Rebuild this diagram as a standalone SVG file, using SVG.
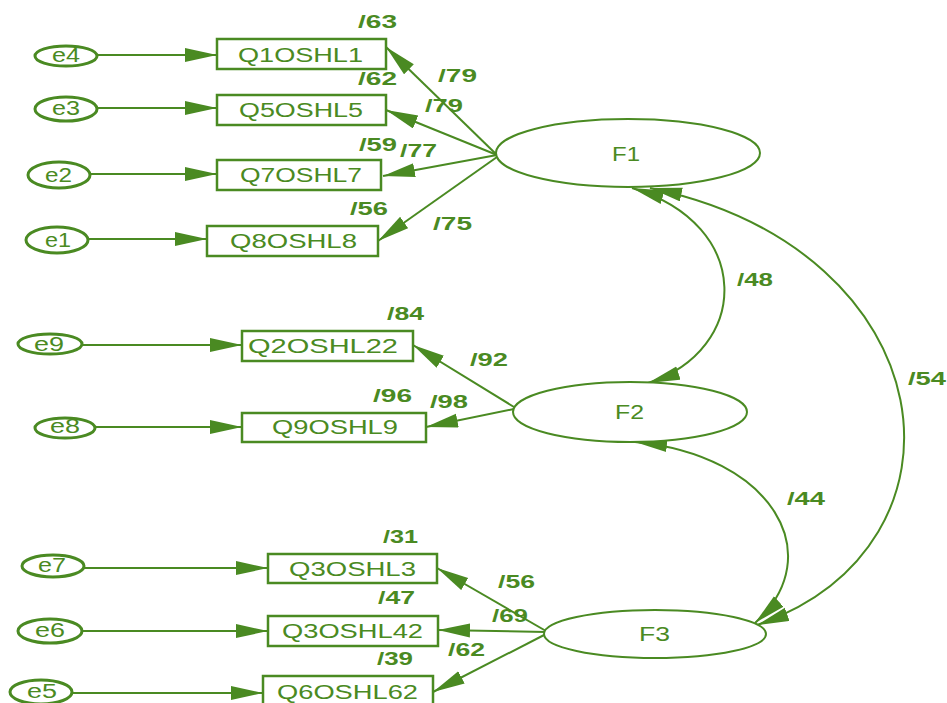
<svg xmlns="http://www.w3.org/2000/svg" width="947" height="703" viewBox="0 0 947 703">
<style>
.box{fill:#fff;stroke:#4a8a22;stroke-width:2.5}
.err{fill:#fff;stroke:#4a8a22;stroke-width:3}
.lat{fill:#fff;stroke:#4a8a22;stroke-width:2}
.t{font-family:"Liberation Sans",Arial,sans-serif;font-size:19.5px;fill:#4a8a22}
.n{font-family:"Liberation Sans",Arial,sans-serif;font-size:18px;font-weight:bold;fill:#4a8a22}
.c{fill:none;stroke:#4a8a22;stroke-width:2;marker-end:url(#ah)}
.cc{fill:none;stroke:#4a8a22;stroke-width:2;marker-start:url(#ah);marker-end:url(#ah)}
</style>
<defs>
<marker id="ah" markerUnits="userSpaceOnUse" markerWidth="34" markerHeight="16" refX="32" refY="7" orient="auto-start-reverse" viewBox="0 0 34 16">
<path d="M0,0 L32,7 L0,14 z" fill="#4a8a22"/>
</marker>
</defs>
<rect width="947" height="703" fill="#fff"/>
<g id="connectors">
<line class="c" x1="97" y1="55" x2="217" y2="55"/>
<line class="c" x1="97" y1="108" x2="217" y2="108"/>
<line class="c" x1="90" y1="174" x2="217" y2="174"/>
<line class="c" x1="88" y1="239" x2="207" y2="239"/>
<line class="c" x1="82" y1="345" x2="242" y2="345"/>
<line class="c" x1="95" y1="427" x2="242" y2="427"/>
<line class="c" x1="84" y1="568" x2="268" y2="568"/>
<line class="c" x1="82" y1="631" x2="268" y2="631"/>
<line class="c" x1="73" y1="693" x2="263" y2="693"/>
<line class="c" x1="497" y1="155" x2="386" y2="47"/>
<line class="c" x1="497" y1="155" x2="386" y2="110"/>
<line class="c" x1="497" y1="155" x2="383" y2="176"/>
<line class="c" x1="497" y1="157" x2="378" y2="241"/>
<line class="c" x1="514" y1="407" x2="413" y2="345"/>
<line class="c" x1="514" y1="409" x2="426" y2="427"/>
<line class="c" x1="546" y1="631" x2="437" y2="568"/>
<line class="c" x1="546" y1="632" x2="438" y2="630"/>
<line class="c" x1="546" y1="634" x2="433" y2="692"/>
<path class="cc" d="M632,188 C755,225 750,350 648,383"/>
<path class="cc" d="M650,188 C947,250 985,545 757,625"/>
<path class="cc" d="M635,442 C772,455 830,555 755,623"/>
</g>
<g id="e4"><ellipse class="err" cx="66" cy="56" rx="31" ry="10"/><text class="t" x="52" y="62" textLength="28" lengthAdjust="spacingAndGlyphs">e4</text></g>
<g id="e3"><ellipse class="err" cx="66" cy="109" rx="31" ry="12"/><text class="t" x="52" y="115" textLength="28" lengthAdjust="spacingAndGlyphs">e3</text></g>
<g id="e2"><ellipse class="err" cx="59" cy="175" rx="31" ry="13"/><text class="t" x="45" y="182" textLength="27" lengthAdjust="spacingAndGlyphs">e2</text></g>
<g id="e1"><ellipse class="err" cx="57" cy="240" rx="31" ry="13"/><text class="t" x="45" y="247" textLength="26" lengthAdjust="spacingAndGlyphs">e1</text></g>
<g id="e9"><ellipse class="err" cx="50" cy="344" rx="32" ry="10"/><text class="t" x="34" y="351" textLength="30" lengthAdjust="spacingAndGlyphs">e9</text></g>
<g id="e8"><ellipse class="err" cx="65" cy="428" rx="30" ry="10"/><text class="t" x="50" y="433" textLength="30" lengthAdjust="spacingAndGlyphs">e8</text></g>
<g id="e7"><ellipse class="err" cx="53" cy="566" rx="31" ry="11"/><text class="t" x="38" y="572" textLength="28" lengthAdjust="spacingAndGlyphs">e7</text></g>
<g id="e6"><ellipse class="err" cx="50" cy="631" rx="32" ry="12"/><text class="t" x="35" y="637" textLength="30" lengthAdjust="spacingAndGlyphs">e6</text></g>
<g id="e5"><ellipse class="err" cx="41" cy="692" rx="31" ry="12"/><text class="t" x="27" y="698" textLength="30" lengthAdjust="spacingAndGlyphs">e5</text></g>
<g id="Q1OSHL1"><rect class="box" x="217" y="39" width="169" height="30"/><text class="t" x="238" y="62" textLength="125" lengthAdjust="spacingAndGlyphs">Q1OSHL1</text></g>
<g id="Q5OSHL5"><rect class="box" x="217" y="95" width="169" height="30"/><text class="t" x="239" y="117" textLength="124" lengthAdjust="spacingAndGlyphs">Q5OSHL5</text></g>
<g id="Q7OSHL7"><rect class="box" x="217" y="160" width="164" height="30"/><text class="t" x="240" y="182" textLength="122" lengthAdjust="spacingAndGlyphs">Q7OSHL7</text></g>
<g id="Q8OSHL8"><rect class="box" x="207" y="226" width="171" height="30"/><text class="t" x="230" y="248" textLength="127" lengthAdjust="spacingAndGlyphs">Q8OSHL8</text></g>
<g id="Q2OSHL22"><rect class="box" x="242" y="331" width="171" height="30"/><text class="t" x="248" y="353" textLength="150" lengthAdjust="spacingAndGlyphs">Q2OSHL22</text></g>
<g id="Q9OSHL9"><rect class="box" x="242" y="413" width="184" height="29"/><text class="t" x="272" y="434" textLength="126" lengthAdjust="spacingAndGlyphs">Q9OSHL9</text></g>
<g id="Q3OSHL3"><rect class="box" x="268" y="554" width="169" height="29"/><text class="t" x="289" y="576" textLength="127" lengthAdjust="spacingAndGlyphs">Q3OSHL3</text></g>
<g id="Q3OSHL42"><rect class="box" x="268" y="616" width="170" height="30"/><text class="t" x="282" y="638" textLength="141" lengthAdjust="spacingAndGlyphs">Q3OSHL42</text></g>
<g id="Q6OSHL62"><rect class="box" x="263" y="676" width="170" height="30"/><text class="t" x="277" y="699" textLength="141" lengthAdjust="spacingAndGlyphs">Q6OSHL62</text></g>
<g id="F1"><ellipse class="lat" cx="628" cy="153" rx="132" ry="34"/><text class="t" x="612" y="161" textLength="28" lengthAdjust="spacingAndGlyphs">F1</text></g>
<g id="F2"><ellipse class="lat" cx="630" cy="412" rx="117" ry="30"/><text class="t" x="615" y="419" textLength="29" lengthAdjust="spacingAndGlyphs">F2</text></g>
<g id="F3"><ellipse class="lat" cx="655" cy="634" rx="111" ry="24"/><text class="t" x="639" y="641" textLength="31" lengthAdjust="spacingAndGlyphs">F3</text></g>
<g id="labels">
<text class="n" x="358" y="28" textLength="39" lengthAdjust="spacingAndGlyphs">/63</text>
<text class="n" x="438" y="82" textLength="39" lengthAdjust="spacingAndGlyphs">/79</text>
<text class="n" x="358" y="85" textLength="39" lengthAdjust="spacingAndGlyphs">/62</text>
<text class="n" x="425" y="112" textLength="38" lengthAdjust="spacingAndGlyphs">/79</text>
<text class="n" x="359" y="151" textLength="38" lengthAdjust="spacingAndGlyphs">/59</text>
<text class="n" x="400" y="157" textLength="37" lengthAdjust="spacingAndGlyphs">/77</text>
<text class="n" x="350" y="215" textLength="38" lengthAdjust="spacingAndGlyphs">/56</text>
<text class="n" x="433" y="230" textLength="39" lengthAdjust="spacingAndGlyphs">/75</text>
<text class="n" x="387" y="320" textLength="37" lengthAdjust="spacingAndGlyphs">/84</text>
<text class="n" x="470" y="366" textLength="38" lengthAdjust="spacingAndGlyphs">/92</text>
<text class="n" x="373" y="402" textLength="39" lengthAdjust="spacingAndGlyphs">/96</text>
<text class="n" x="430" y="408" textLength="38" lengthAdjust="spacingAndGlyphs">/98</text>
<text class="n" x="383" y="543" textLength="35" lengthAdjust="spacingAndGlyphs">/31</text>
<text class="n" x="498" y="588" textLength="37" lengthAdjust="spacingAndGlyphs">/56</text>
<text class="n" x="378" y="604" textLength="37" lengthAdjust="spacingAndGlyphs">/47</text>
<text class="n" x="492" y="622" textLength="36" lengthAdjust="spacingAndGlyphs">/69</text>
<text class="n" x="448" y="656" textLength="37" lengthAdjust="spacingAndGlyphs">/62</text>
<text class="n" x="377" y="665" textLength="36" lengthAdjust="spacingAndGlyphs">/39</text>
<text class="n" x="737" y="286" textLength="36" lengthAdjust="spacingAndGlyphs">/48</text>
<text class="n" x="908" y="385" textLength="38" lengthAdjust="spacingAndGlyphs">/54</text>
<text class="n" x="787" y="505" textLength="38" lengthAdjust="spacingAndGlyphs">/44</text>
</g>
</svg>
